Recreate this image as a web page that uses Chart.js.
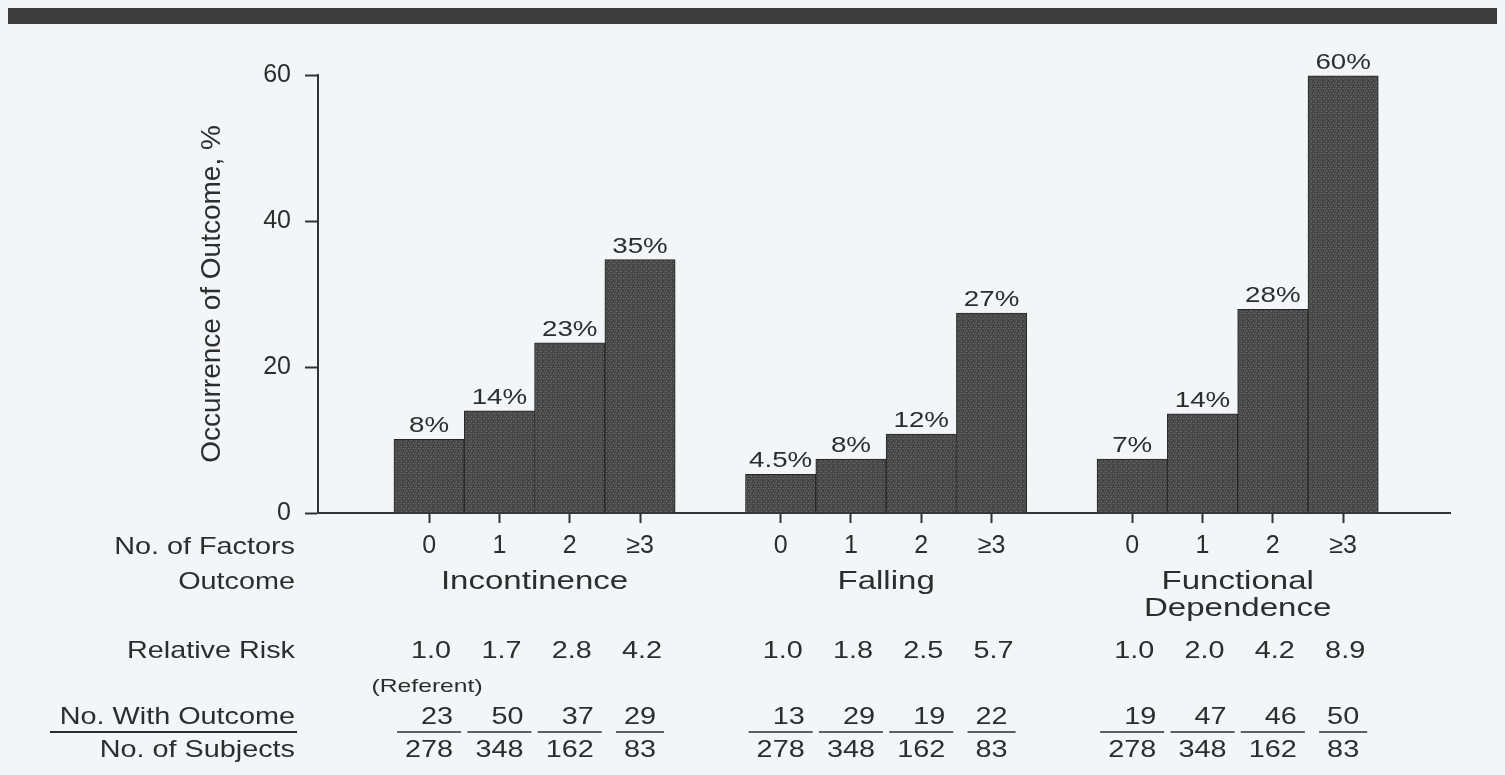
<!DOCTYPE html>
<html><head><meta charset="utf-8">
<script src="https://cdn.jsdelivr.net/npm/chart.js@4.4.1/dist/chart.umd.min.js"></script>
<style>html,body{margin:0;padding:0;background:#f4f5f9;overflow:hidden;} #wrap{width:1505px;height:775px;position:relative;}</style>
</head><body><div id="wrap"><canvas id="c" width="1505" height="775"></canvas></div>
<script>
// ---- data ----
const outcomes = [['Incontinence'], ['Falling'], ['Functional', 'Dependence']];
const factorLabels = ['0', '1', '2', '≥3'];
const incontinence = [10.1, 14.0, 23.3, 34.7];
const falling = [5.3, 7.4, 10.8, 27.4];
const functionalDependence = [7.4, 13.6, 27.9, 59.9];
const incontinenceLabels = ['8%', '14%', '23%', '35%'];
const fallingLabels = ['4.5%', '8%', '12%', '27%'];
const functionalLabels = ['7%', '14%', '28%', '60%'];
const rrIncontinence = ['1.0', '1.7', '2.8', '4.2'];
const rrFalling = ['1.0', '1.8', '2.5', '5.7'];
const rrFunctional = ['1.0', '2.0', '4.2', '8.9'];
const withOutcomeIncontinence = [23, 50, 37, 29];
const withOutcomeFalling = [13, 29, 19, 22];
const withOutcomeFunctional = [19, 47, 46, 50];
const subjectsPerFactor = [278, 348, 162, 83];
const yTicks = [0, 20, 40, 60];
const rowLabels = ['No. of Factors', 'Outcome', 'Relative Risk', 'No. With Outcome', 'No. of Subjects'];
const referentNote = '(Referent)';
const yTitle = 'Occurrence of Outcome, %';

// ---- build structures ----
const series = [incontinence, falling, functionalDependence];
const seriesLabels = [incontinenceLabels, fallingLabels, functionalLabels];
const rrRows = [rrIncontinence, rrFalling, rrFunctional];
const withRows = [withOutcomeIncontinence, withOutcomeFalling, withOutcomeFunctional];
const points = [], tickPos = [], tickText = [], barText = [];
series.forEach((vals, g) => vals.forEach((v, i) => {
  const x = g * 5 + i + 1;
  points.push({x: x, y: v});
  tickPos.push(x);
  tickText.push(factorLabels[i]);
  barText.push(seriesLabels[g][i]);
}));

const FONT = '"Liberation Sans", Arial, Helvetica, sans-serif';
const INK = '#2d2d2d';

// stipple pattern for bars
const pc = document.createElement('canvas');
pc.width = 5; pc.height = 5;
const pctx = pc.getContext('2d');
pctx.fillStyle = '#4a4a4a'; pctx.fillRect(0, 0, 5, 5);
pctx.fillStyle = '#707070'; pctx.fillRect(1, 1, 1, 1); pctx.fillRect(3, 3, 1, 1);
pctx.fillStyle = '#5e5e5e'; pctx.fillRect(4, 0, 1, 1); pctx.fillRect(0, 3, 1, 1);
pctx.fillStyle = '#363636'; pctx.fillRect(2, 2, 1, 1); pctx.fillRect(3, 0, 1, 1);
const ctx = document.getElementById('c').getContext('2d');
const pattern = ctx.createPattern(pc, 'repeat');

function txt(c, s, x, y, size, sx, align, baseline) {
  c.save();
  c.font = size + 'px ' + FONT;
  c.fillStyle = INK;
  c.textAlign = align || 'center';
  c.textBaseline = baseline || 'middle';
  c.translate(x, y);
  c.scale(sx, 1);
  c.fillText(s, 0, 0);
  c.restore();
}
function tw(c, s, size, sx) {
  c.save(); c.font = size + 'px ' + FONT;
  const w = c.measureText(s).width * sx; c.restore(); return w;
}

const decor = {
  id: 'decor',
  beforeDraw(chart) {
    const c = chart.ctx;
    c.save();
    c.fillStyle = '#f4f5f9';
    c.fillRect(0, 0, chart.width, chart.height);
    c.fillStyle = '#3c3c3c';
    c.fillRect(8, 8, 1489, 16);
    c.restore();
  },
  afterDatasetsDraw(chart) {
    const c = chart.ctx;
    chart.getDatasetMeta(0).data.forEach((bar, i) => {
      txt(c, barText[i], bar.x, bar.y - 7, 22, 1.26, 'center', 'alphabetic');
    });
  },
  afterDraw(chart) {
    const c = chart.ctx;
    const xs = chart.scales.x;
    const LX = 295;
    // left row labels
    txt(c, rowLabels[0], LX, 547, 24, 1.2, 'right');
    txt(c, rowLabels[1], LX, 582, 24, 1.2, 'right');
    txt(c, rowLabels[2], LX, 651, 24, 1.2, 'right');
    txt(c, rowLabels[3], LX, 717, 24, 1.2, 'right');
    txt(c, rowLabels[4], LX, 750, 24, 1.2, 'right');
    c.save();
    c.strokeStyle = INK; c.lineWidth = 2;
    c.beginPath(); c.moveTo(50, 732); c.lineTo(297, 732); c.stroke();
    c.restore();

    outcomes.forEach((lines, g) => {
      const x0 = xs.getPixelForValue(tickPos[g * 4]);
      const x1 = xs.getPixelForValue(tickPos[g * 4 + 3]);
      const cx = (x0 + x1) / 2;
      lines.forEach((ln, k) => txt(c, ln, cx, 582 + k * 27, 26, 1.27, 'center'));
      for (let i = 0; i < 4; i++) {
        const bx = xs.getPixelForValue(tickPos[g * 4 + i]);
        txt(c, rrRows[g][i], bx + 2, 651, 24, 1.2, 'center');
        const den = String(subjectsPerFactor[i]);
        const num = String(withRows[g][i]);
        const dw = tw(c, den, 24, 1.2);
        const right = bx + dw / 2;
        txt(c, den, bx, 750, 24, 1.2, 'center');
        txt(c, num, right, 717, 24, 1.2, 'right');
        c.save();
        c.strokeStyle = INK; c.lineWidth = 1.6;
        c.beginPath(); c.moveTo(bx - dw / 2 - 8, 732); c.lineTo(right + 8, 732); c.stroke();
        c.restore();
      }
      if (g === 0) {
        txt(c, referentNote, xs.getPixelForValue(tickPos[0]) - 2, 687, 19, 1.3, 'center');
      }
    });
  }
};

new Chart(ctx, {
  type: 'bar',
  data: {
    datasets: [{
      data: points,
      backgroundColor: pattern,
      borderColor: '#262626',
      borderWidth: 1,
      barPercentage: 1,
      categoryPercentage: 1
    }]
  },
  options: {
    responsive: false,
    animation: false,
    devicePixelRatio: 1,
    layout: {padding: {left: 0, right: 55, top: 75, bottom: 0}},
    plugins: {legend: {display: false}, tooltip: {enabled: false}},
    scales: {
      x: {
        type: 'linear',
        min: -0.58, max: 15.52,
        offset: false,
        grid: {display: true, drawOnChartArea: false, drawTicks: true, tickLength: 10, tickWidth: 2, tickColor: '#333', offset: false},
        border: {display: true, color: '#333', width: 2},
        ticks: {
          autoSkip: false, maxRotation: 0, minRotation: 0, padding: 8, color: INK,
          font: {family: FONT, size: 25},
          callback: (v, i) => tickText[i]
        },
        afterBuildTicks: s => { s.ticks = tickPos.map(v => ({value: v})); },
        afterFit: s => { s.height = 262; }
      },
      y: {
        min: 0, max: 60,
        afterBuildTicks: s => { s.ticks = yTicks.map(v => ({value: v})); },
        grid: {display: true, drawOnChartArea: false, tickLength: 13, tickWidth: 2, tickColor: '#333'},
        border: {display: true, color: '#333', width: 2},
        ticks: {padding: 14, color: INK, font: {family: FONT, size: 25}},
        title: {display: true, text: yTitle, color: INK, font: {family: FONT, size: 28}, padding: {top: 195, bottom: 0}},
        afterFit: s => { s.width = 318; }
      }
    }
  },
  plugins: [decor]
});
</script>
</body></html>
